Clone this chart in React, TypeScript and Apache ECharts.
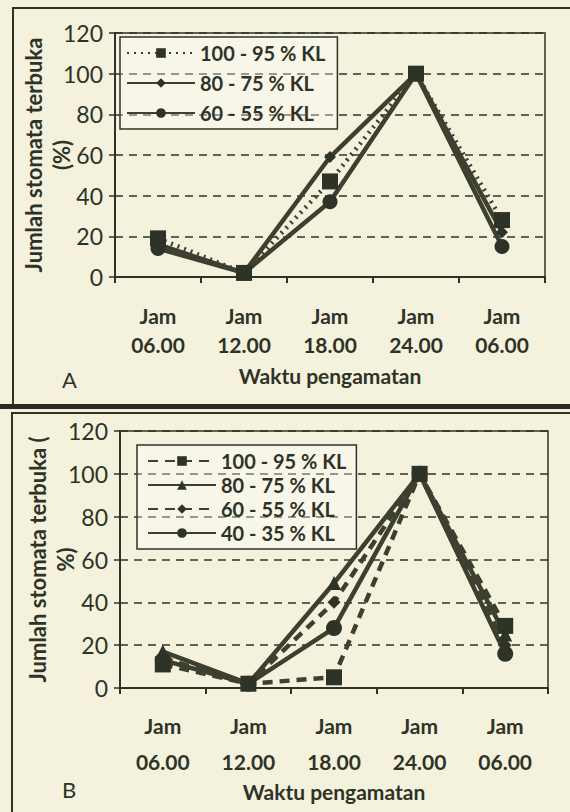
import React, { useEffect, useRef } from "react";
import * as echarts from "echarts";

const categories = ["Jam\n06.00", "Jam\n12.00", "Jam\n18.00", "Jam\n24.00", "Jam\n06.00"];
const yTicks = [0, 20, 40, 60, 80, 100, 120];

// Chart A
const namesA = ["100 - 95 % KL", "80 - 75 % KL", "60 - 55 % KL"];
const a100_95 = [19, 2, 47, 100, 28];
const a80_75 = [16, 2, 59, 100, 22];
const a60_55 = [14, 2, 37, 100, 15];

// Chart B
const namesB = ["100 - 95 % KL", "80 - 75 % KL", "60 - 55 % KL", "40 - 35 % KL"];
const b100_95 = [11, 2, 5, 100, 29];
const b80_75 = [17, 2, 49, 100, 25];
const b60_55 = [14, 2, 40, 100, 20];
const b40_35 = [13, 2, 28, 100, 16];

const INK = "#2e3328";
const LINE = "#3d4030";
const FONT = "Lato, 'Open Sans', sans-serif";

export default function App() {
  const ref = useRef<HTMLDivElement>(null);
  useEffect(() => {
    document.body.style.margin = "0";
    const chart = echarts.init(ref.current!, null, { renderer: "svg" });

    const mkX = (gi: number, lh: number, margin: number, gap: number) => ({
      type: "category",
      gridIndex: gi,
      data: categories,
      boundaryGap: true,
      axisLine: { lineStyle: { color: INK, width: 2 } },
      axisTick: { show: true, inside: false, length: 6, lineStyle: { color: INK, width: 2 } },
      axisLabel: { color: INK, fontFamily: FONT, fontWeight: "bold", fontSize: 21, lineHeight: lh, margin },
      name: "Waktu pengamatan",
      nameLocation: "middle",
      nameGap: gap,
      nameMoveOverlap: false,
      nameTextStyle: { color: INK, fontFamily: FONT, fontWeight: "bold", fontSize: 21 },
    });
    const mkY = (gi: number, name: string, gap: number) => ({
      type: "value",
      gridIndex: gi,
      min: 0,
      max: 120,
      interval: 20,
      axisLine: { show: true, lineStyle: { color: INK, width: 2 } },
      axisTick: { show: true, inside: false, length: 6, lineStyle: { color: INK, width: 1.5 } },
      axisLabel: { color: INK, fontFamily: FONT, fontSize: 23, margin: 12, formatter: (v: number) => (yTicks.includes(v) ? String(v) : "") },
      splitLine: { show: true, lineStyle: { color: INK, width: 1.6, type: [8, 6] } },
      name,
      nameLocation: "middle",
      nameRotate: 90,
      nameGap: gap,
      nameMoveOverlap: false,
      nameTextStyle: { color: INK, fontFamily: FONT, fontWeight: "bold", fontSize: 22, lineHeight: 28 },
    });
    const mkS = (
      prefix: string,
      name: string,
      gi: number,
      data: number[],
      type: any,
      symbol: string,
      size: number,
      width: number
    ) => ({
      type: "line",
      name: prefix + name,
      xAxisIndex: gi,
      yAxisIndex: gi,
      data,
      symbol,
      symbolSize: size,
      lineStyle: { color: LINE, width, type },
      itemStyle: { color: INK },
    });

    const legendCommon = {
      orient: "vertical",
      itemWidth: 68,
      itemHeight: 12,
      borderColor: INK,
      borderWidth: 1.5,
      backgroundColor: "rgba(255,255,255,0.35)",
      formatter: (n: string) => n.slice(2),
    };

    chart.setOption({
      animation: false,
      backgroundColor: "#f4f1dc",
      grid: [
        { left: 115, right: 25, top: 33, bottom: 535, show: true, borderColor: INK, borderWidth: 1.5 },
        { left: 120, right: 22, top: 431, bottom: 124, show: true, borderColor: INK, borderWidth: 1.5 },
      ],
      xAxis: [mkX(0, 29, 24, 88), mkX(1, 36, 19, 93)],
      yAxis: [mkY(0, "Jumlah stomata terbuka\n(%)", 40), mkY(1, "Jumlah stomata terbuka (\n%)", 41)],
      legend: [
        {
          ...legendCommon,
          left: 120,
          top: 37,
          padding: [6, 12, 6, 6],
          itemGap: 10,
          textStyle: { color: INK, fontFamily: FONT, fontWeight: "bold", fontSize: 20, lineHeight: 20 },
          data: namesA.map((n) => "A:" + n),
        },
        {
          ...legendCommon,
          left: 137,
          top: 445,
          padding: [6, 10, 6, 10],
          itemGap: 4,
          textStyle: { color: INK, fontFamily: FONT, fontWeight: "bold", fontSize: 20, lineHeight: 19.5 },
          data: namesB.map((n) => "B:" + n),
        },
      ],
      graphic: [
        { type: "rect", shape: { x: 13, y: 8, width: 560, height: 398 }, style: { fill: "none", stroke: INK, lineWidth: 2 } },
        { type: "rect", shape: { x: 0, y: 404, width: 570, height: 5 }, style: { fill: "#2a2a22" } },
        { type: "rect", shape: { x: 12, y: 413, width: 560, height: 404 }, style: { fill: "none", stroke: INK, lineWidth: 2 } },
        { type: "text", x: 62, y: 368, style: { text: "A", fill: INK, font: `22px ${FONT}` } },
        { type: "text", x: 62, y: 778, style: { text: "B", fill: INK, font: `22px ${FONT}` } },
      ],
      series: [
        mkS("A:", namesA[0], 0, a100_95, [2, 5], "rect", 16, 4.5),
        mkS("A:", namesA[1], 0, a80_75, "solid", "diamond", 12, 4.5),
        mkS("A:", namesA[2], 0, a60_55, "solid", "circle", 15, 4.5),
        mkS("B:", namesB[0], 1, b100_95, [10, 7], "rect", 16, 4.5),
        mkS("B:", namesB[1], 1, b80_75, "solid", "triangle", 14, 4.5),
        mkS("B:", namesB[2], 1, b60_55, [10, 7], "diamond", 13, 4.5),
        mkS("B:", namesB[3], 1, b40_35, "solid", "circle", 16, 4.5),
      ],
    });
    return () => chart.dispose();
  }, []);
  return <div ref={ref} style={{ position: "absolute", left: 0, top: 0, width: 570, height: 812 }} />;
}
